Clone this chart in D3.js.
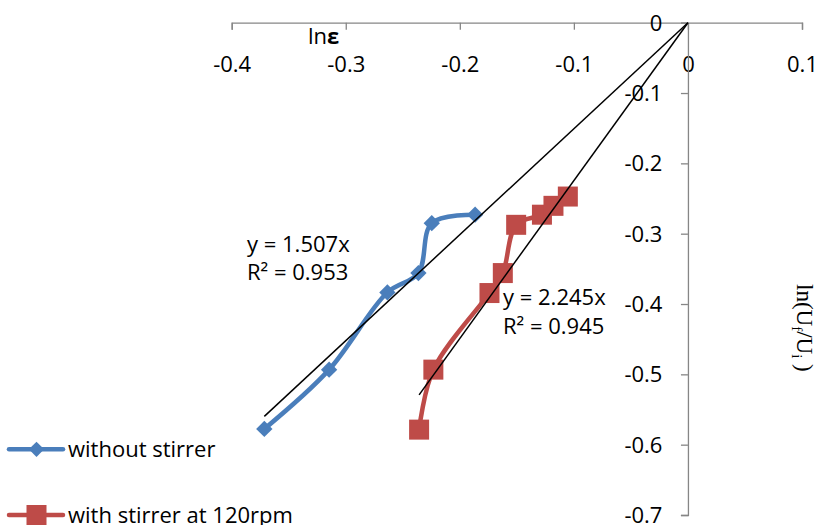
<!DOCTYPE html>
<html>
<head>
<meta charset="utf-8">
<script src="https://cdn.jsdelivr.net/npm/d3@7"></script>
<style>
  body { margin: 0; background: #fff; }
  svg text { font-family: "Open Sans", Lato, sans-serif; fill: #000; }
</style>
</head>
<body>
<div id="chart"></div>
<script>
var svgWidth = 818;
var svgHeight = 525;

// data
var seriesNames = ["without stirrer", "with stirrer at 120rpm"];
var blueX = [-0.3714, -0.3146, -0.2635, -0.2363, -0.2246, -0.1866];
var blueY = [-0.5776, -0.4933, -0.3835, -0.356, -0.285, -0.273];
var redX = [-0.2357, -0.2232, -0.174, -0.1623, -0.1506, -0.128, -0.1179, -0.1053];
var redY = [-0.5786, -0.4933, -0.3844, -0.356, -0.2874, -0.273, -0.2604, -0.2472];
var slopes = [1.507, 2.245];
var r2 = ["0.953", "0.945"];
var xTicks = [-0.4, -0.3, -0.2, -0.1, 0, 0.1];
var yTicks = [0, -0.1, -0.2, -0.3, -0.4, -0.5, -0.6, -0.7];
var colors = ["#4a7ebb", "#be4b48"];
var fontSize = 22;

var svg = d3.select("#chart")
  .append("svg")
  .attr("width", svgWidth)
  .attr("height", svgHeight);

var x = d3.scaleLinear().domain([-0.4, 0.1]).range([231.7, 802]);
var y = d3.scaleLinear().domain([-0.7, 0]).range([515, 22.7]);

var fmt = d => d === 0 ? "0" : d.toFixed(1);

// x axis along the top (y = 0)
var xAxis = svg.append("g")
  .attr("transform", `translate(0, ${y(0)})`)
  .call(d3.axisBottom(x).tickValues(xTicks).tickSize(7).tickFormat(fmt));
xAxis.select(".domain").attr("stroke", "#868686").attr("stroke-width", 1.3);
xAxis.selectAll(".tick line").attr("stroke", "#868686").attr("stroke-width", 1.3);
xAxis.selectAll("text")
  .attr("font-size", fontSize)
  .attr("fill", "#000")
  .attr("dy", null)
  .attr("y", 49.5);

// y axis at x = 0
var yAxis = svg.append("g")
  .attr("transform", `translate(${x(0)}, 0)`)
  .call(d3.axisLeft(y).tickValues(yTicks).tickSize(7).tickFormat(fmt));
yAxis.select(".domain").attr("stroke", "#868686").attr("stroke-width", 1.3);
yAxis.selectAll(".tick line").attr("stroke", "#868686").attr("stroke-width", 1.3);
yAxis.selectAll("text")
  .attr("font-size", fontSize)
  .attr("fill", "#000")
  .attr("dy", null)
  .attr("x", -25.5)
  .attr("y", 7.5);

// axis titles
var xt = svg.append("text")
  .attr("x", 308)
  .attr("y", 43.5)
  .attr("font-size", fontSize);
xt.append("tspan").text("ln");
xt.append("tspan").attr("font-weight", "bold").text("ε");

var yt = svg.append("text")
  .attr("transform", "translate(797, 284) rotate(90)")
  .style("font-family", "'Liberation Serif', 'DejaVu Serif', serif")
  .attr("font-size", 23);
yt.append("tspan").text("ln(U");
yt.append("tspan").attr("font-size", 15).attr("dy", 5).text("f");
yt.append("tspan").attr("dy", -5).text("/U");
yt.append("tspan").attr("font-size", 15).attr("dy", 5).text("i");
yt.append("tspan").attr("dy", -5).text(" )");

var series = [
  d3.zip(blueX, blueY),
  d3.zip(redX, redY)
];

var line = d3.line()
  .x(d => x(d[0]))
  .y(d => y(d[1]))
  .curve(d3.curveCatmullRom.alpha(0.5));

series.forEach(function(data, i) {
  svg.append("path")
    .datum(data)
    .attr("fill", "none")
    .attr("stroke", colors[i])
    .attr("stroke-width", 4.5)
    .attr("stroke-linejoin", "round")
    .attr("d", line);
});

// markers
svg.selectAll(".diamond")
  .data(series[0])
  .enter()
  .append("path")
  .attr("class", "diamond")
  .attr("d", d3.symbol().type(d3.symbolDiamond2).size(170))
  .attr("transform", d => `translate(${x(d[0])}, ${y(d[1])})`)
  .attr("fill", colors[0]);

svg.selectAll(".square")
  .data(series[1])
  .enter()
  .append("rect")
  .attr("class", "square")
  .attr("x", d => x(d[0]) - 10)
  .attr("y", d => y(d[1]) - 10)
  .attr("width", 20)
  .attr("height", 20)
  .attr("fill", colors[1]);

// linear trend lines through origin
var trendStart = [d3.min(blueX), d3.min(redX)];
slopes.forEach(function(s, i) {
  svg.append("line")
    .attr("x1", x(trendStart[i]))
    .attr("y1", y(s * trendStart[i]))
    .attr("x2", x(0))
    .attr("y2", y(0))
    .attr("stroke", "#000")
    .attr("stroke-width", 1.5);
});

// trend labels
var labelPos = [[247, 251.7], [503, 305]];
slopes.forEach(function(s, i) {
  svg.append("text")
    .attr("x", labelPos[i][0])
    .attr("y", labelPos[i][1])
    .attr("font-size", fontSize)
    .text("y = " + s.toFixed(3) + "x");
  svg.append("text")
    .attr("x", labelPos[i][0])
    .attr("y", labelPos[i][1] + 28.5)
    .attr("font-size", fontSize)
    .text("R² = " + r2[i]);
});

// legend
var legendY = [449.3, 515];
seriesNames.forEach(function(name, i) {
  var g = svg.append("g").attr("transform", `translate(0, ${legendY[i]})`);
  g.append("line")
    .attr("x1", 9).attr("x2", 63)
    .attr("y1", 0).attr("y2", 0)
    .attr("stroke", colors[i])
    .attr("stroke-width", 4.5)
    .attr("stroke-linecap", "round");
  if (i === 0) {
    g.append("path")
      .attr("d", d3.symbol().type(d3.symbolDiamond2).size(150))
      .attr("transform", "translate(36.5, 0)")
      .attr("fill", colors[i]);
  } else {
    g.append("rect")
      .attr("x", 26.5).attr("y", -10)
      .attr("width", 20).attr("height", 20)
      .attr("fill", colors[i]);
  }
  g.append("text")
    .attr("x", 68)
    .attr("y", 7.5)
    .attr("font-size", fontSize)
    .text(name);
});
</script>
</body>
</html>
